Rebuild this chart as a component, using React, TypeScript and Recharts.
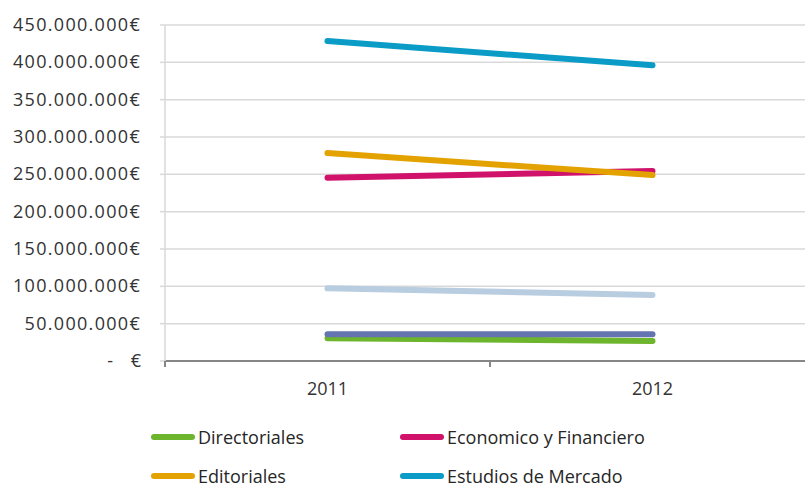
import React from 'react';
import { LineChart, Line, XAxis, YAxis, CartesianGrid } from 'recharts';

// values in euros
const years = ['2011', '2012'];
const directoriales = [30400000, 26800000];
const economico = [245500000, 254500000];
const editoriales = [278600000, 249000000];
const estudios = [428600000, 396000000];
const serieE = [97300000, 88400000];
const serieF = [35700000, 35700000];
const yTicks = [0, 50000000, 100000000, 150000000, 200000000, 250000000, 300000000, 350000000, 400000000, 450000000];

const series = [
  { key: 'Directoriales', values: directoriales, color: '#6db52c', legend: true },
  { key: 'Economico y Financiero', values: economico, color: '#d0126a', legend: true },
  { key: 'Editoriales', values: editoriales, color: '#e3a200', legend: true },
  { key: 'Estudios de Mercado', values: estudios, color: '#0a9cc6', legend: true },
  { key: 'serieE', values: serieE, color: '#b9cde0', legend: false },
  { key: 'serieF', values: serieF, color: '#6474b0', legend: false },
];

const data = years.map((year, i) => {
  const row: Record<string, string | number> = { year };
  series.forEach((s) => (row[s.key] = s.values[i]));
  return row;
});

const FONT = '"Open Sans", sans-serif';
const CHART_W = 815;
const CHART_H = 487;
const Y_AXIS_W = 165;
const PLOT_BOTTOM = 361;
const HALF_BAND = (CHART_W - Y_AXIS_W) / years.length / 2;

const fmt = (v: number) => String(v).replace(/\B(?=(\d{3})+(?!\d))/g, '.') + '€';

const YTick = (props: any) => {
  const { x, y, payload } = props;
  if (payload.value === 0) {
    return (
      <g>
        <text x={x - 28} y={y} dy={6} textAnchor="end" fontSize={18} fill="#333" fontFamily={FONT}>
          -
        </text>
        <text x={x} y={y} dy={6} textAnchor="end" fontSize={18} fill="#333" fontFamily={FONT}>
          €
        </text>
      </g>
    );
  }
  return (
    <text x={x} y={y} dy={6} textAnchor="end" fontSize={18} letterSpacing={1.3} fill="#333" fontFamily={FONT}>
      {fmt(payload.value)}
    </text>
  );
};

const XTick = (props: any) => {
  const { x, payload, index } = props;
  return (
    <g>
      <line x1={x - HALF_BAND} x2={x - HALF_BAND} y1={PLOT_BOTTOM} y2={PLOT_BOTTOM + 6} stroke="#868686" strokeWidth={2} />
      {index === years.length - 1 && (
        <line x1={x + HALF_BAND} x2={x + HALF_BAND} y1={PLOT_BOTTOM} y2={PLOT_BOTTOM + 6} stroke="#868686" strokeWidth={2} />
      )}
      <text x={x} y={PLOT_BOTTOM + 34} textAnchor="middle" fontSize={18} fill="#333" fontFamily={FONT}>
        {payload.value}
      </text>
    </g>
  );
};

const legendItems = series.filter((s) => s.legend);

export default function App() {
  return (
    <div style={{ position: 'absolute', left: 0, top: 0, width: 805, height: 487, overflow: 'hidden', background: '#fff' }}>
      <LineChart
        width={CHART_W}
        height={CHART_H}
        data={data}
        margin={{ top: 25, right: 0, left: 0, bottom: 86 }}
      >
        <CartesianGrid vertical={false} stroke="#d9d9d9" strokeWidth={1.5} />
        <XAxis
          dataKey="year"
          scale="band"
          height={40}
          axisLine={{ stroke: '#868686', strokeWidth: 2 }}
          tickLine={false}
          tick={<XTick />}
          interval={0}
        />
        <YAxis
          width={Y_AXIS_W}
          domain={[0, 450000000]}
          ticks={yTicks}
          interval={0}
          axisLine={{ stroke: '#d9d9d9', strokeWidth: 1.5 }}
          tickLine={{ stroke: '#d9d9d9', strokeWidth: 1.5 }}
          tickSize={5}
          tickMargin={19}
          tick={<YTick />}
        />
        {series.map((s) => (
          <Line
            key={s.key}
            dataKey={s.key}
            type="linear"
            stroke={s.color}
            strokeWidth={6}
            strokeLinecap="round"
            dot={false}
            activeDot={false}
            isAnimationActive={false}
          />
        ))}
      </LineChart>
      {legendItems.map((s, i) => (
        <div
          key={s.key}
          style={{
            position: 'absolute',
            left: i % 2 === 0 ? 151 : 400,
            top: i < 2 ? 427 : 466,
            display: 'flex',
            alignItems: 'center',
            height: 20,
            lineHeight: '20px',
            fontFamily: FONT,
            fontSize: 18,
            color: '#262626',
            whiteSpace: 'nowrap',
          }}
        >
          <span style={{ display: 'inline-block', width: 44, height: 6, borderRadius: 3, background: s.color, marginRight: 3 }} />
          {s.key}
        </div>
      ))}
    </div>
  );
}
